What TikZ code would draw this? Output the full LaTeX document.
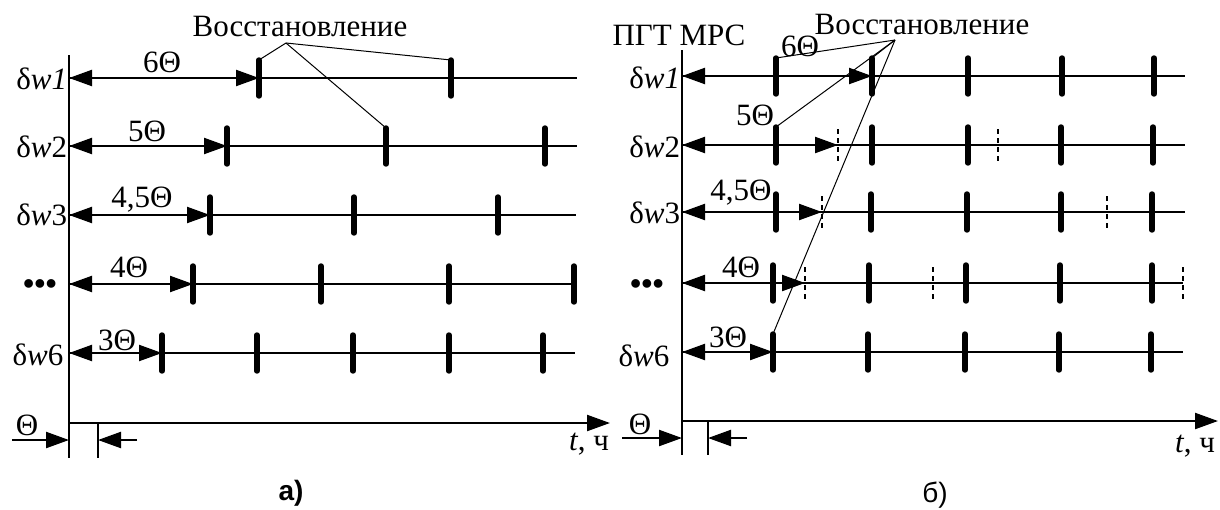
\documentclass[tikz,border=0pt]{standalone}
\usepackage{fontspec}
\setmainfont{Liberation Serif}
\newfontfamily\capfont{Liberation Sans}
\usetikzlibrary{arrows.meta}

\tikzset{
  tline/.style={line width=1.2pt},
  bar/.style={line width=2.7pt, line cap=round},
  dbar/.style={line width=1pt, dash pattern=on 2.5pt off 2pt},
  lead/.style={line width=0.5pt},
  dimarr/.style={line width=1.1pt, {Triangle[length=11.5pt,width=8pt]}-{Triangle[length=11.5pt,width=8pt]}},
  onearr/.style={line width=1.1pt, -{Triangle[length=11.5pt,width=8pt]}},
  lbl/.style={inner sep=0.75pt, font=\fontsize{15.5}{18}\selectfont},
  dots/.style={inner sep=0.75pt, font=\fontsize{16}{18}\selectfont},
}

\begin{document}
\begin{tikzpicture}[x=0.5pt,y=0.5pt,yscale=-1,xscale=1]
\useasboundingbox (0,0) rectangle (1220,509);

% ---------------- a) ----------------
%Straight Lines: axes
\draw[tline] (69,55) -- (69,458);
\coordinate (a0) at (69,423);
\coordinate (aend) at (610,423);
\draw[onearr] (a0) -- (aend);

% row coordinates
\coordinate (a1) at (69,78);
\coordinate (a2) at (69,146);
\coordinate (a3) at (69,215);
\coordinate (a4) at (69,284);
\coordinate (a5) at (69,353);

%Straight Lines: time lines
\draw[tline] (a1) -- (577,78);
\draw[tline] (a2) -- (577,146);
\draw[tline] (a3) -- (576,215);
\draw[tline] (a4) -- (574,284);
\draw[tline] (a5) -- (575,353);

%Shape: restoration bars
\coordinate (a1b1) at (259,60);
\coordinate (a1b2) at (451,60);
\coordinate (a2b1) at (227,128);
\coordinate (a2b2) at (386,128);
\coordinate (a3b1) at (210,197);
\coordinate (a4b1) at (193,266);
\coordinate (a5b1) at (162,335);
\draw[bar] (a1b1) -- ++(0,36) (a1b2) -- ++(0,36);
\draw[bar] (a2b1) -- ++(0,36) (a2b2) -- ++(0,36) (545,128) -- (545,164);
\draw[bar] (a3b1) -- ++(0,36) (354,197) -- (354,233) (498,197) -- (498,233);
\draw[bar] (a4b1) -- ++(0,36) (321,266) -- (321,302) (449,266) -- (449,302) (574,266) -- (574,302);
\draw[bar] (a5b1) -- ++(0,36) (257,335) -- (257,371) (353,335) -- (353,371) (449,335) -- (449,371) (543,335) -- (543,371);

%Straight Lines: periods
\draw[dimarr] (a1) -- (a1b1 |- a1);
\draw[dimarr] (a2) -- (a2b1 |- a2);
\draw[dimarr] (a3) -- (a3b1 |- a3);
\draw[dimarr] (a4) -- (a4b1 |- a4);
\draw[dimarr] (a5) -- (a5b1 |- a5);

% Text Node
\node[lbl, anchor=east] (aw1) at (69,79) {δ\textit{w1}};
\node[lbl, anchor=east] (aw2) at (69,147) {δ\textit{w}2};
\node[lbl, anchor=east] (aw3) at (69,215) {δ\textit{w}3};
\node[dots] (awd) at (40,287) {\textbf{•••}};
\node[lbl] (aw6) at (38,355) {δ\textit{w}6};
\node[lbl] (ad1) at (162,62) {6Θ};
\node[lbl] (ad2) at (147,131) {5Θ};
\node[lbl] (ad3) at (142,200) {4,5Θ};
\node[lbl] (ad4) at (129,267) {4Θ};
\node[lbl] (ad5) at (117,340) {3Θ};

% Text Node
\node[lbl] (arest) at (300,26) {Восстановление};
\coordinate (aapex) at (286,43);
\draw[lead] (aapex) -- (a1b1);
\draw[lead] (aapex) -- (a1b2);
\draw[lead] (aapex) -- (a2b2);

%Straight Lines: one period
\coordinate (aq0) at (69,458);
\coordinate (aq1) at (98,423);
\draw[tline] (aq1) -- ++(0,35);
\coordinate (aql) at (12,440);
\coordinate (aqr) at (137,440);
\draw[onearr] (aql) -- (aq0 |- aql);
\draw[onearr] (aqr) -- (aq1 |- aqr);
\node[lbl] (aq) at (27,425) {Θ};
\node[lbl] (at) at (589,444) {\textit{t}, ч};
\node[lbl, font=\capfont\bfseries\fontsize{14}{17}\selectfont] (acap) at (291,493) {а)};

% ---------------- b) ----------------
%Straight Lines: axes
\draw[tline] (682,50) -- (682,455);
\coordinate (b0) at (682,421);
\coordinate (bend) at (1218,421);
\draw[onearr] (b0) -- (bend);

% row coordinates
\coordinate (b1) at (682,76);
\coordinate (b2) at (682,145);
\coordinate (b3) at (682,212);
\coordinate (b4) at (682,283);
\coordinate (b5) at (682,352);

%Straight Lines: time lines
\draw[tline] (b1) -- (1185,76);
\draw[tline] (b2) -- (1185,145);
\draw[tline] (b3) -- (1185,212);
\draw[tline] (b4) -- (1183,283);
\draw[tline] (b5) -- (1183,352);

%Shape: restoration bars
\coordinate (b1b1) at (776,58);
\coordinate (b1b2) at (872,58);
\coordinate (b2b1) at (776,127);
\coordinate (b5b1) at (773,334);
\draw[bar] (b1b1) -- ++(0,36) (b1b2) -- ++(0,36) (968,58) -- (968,94) (1062,58) -- (1062,94) (1154,58) -- (1154,94);
\draw[bar] (b2b1) -- ++(0,36) (872,127) -- (872,163) (968,127) -- (968,163) (1061,127) -- (1061,163) (1153,127) -- (1153,163);
\draw[bar] (776,194) -- (776,230) (871,194) -- (871,230) (967,194) -- (967,230) (1061,194) -- (1061,230) (1152,194) -- (1152,230);
\draw[bar] (773,265) -- (773,301) (869,265) -- (869,301) (966,265) -- (966,301) (1060,265) -- (1060,301) (1152,265) -- (1152,301);
\draw[bar] (b5b1) -- ++(0,36) (868,334) -- (868,370) (965,334) -- (965,370) (1059,334) -- (1059,370) (1151,334) -- (1151,370);

%Shape: dashed bars
\coordinate (b2d1) at (838,129);
\coordinate (b3d1) at (822,196);
\coordinate (b4d1) at (805,267);
\draw[dbar] (b2d1) -- ++(0,32) (998,129) -- (998,161);
\draw[dbar] (b3d1) -- ++(0,32) (1107,196) -- (1107,228);
\draw[dbar] (b4d1) -- ++(0,32) (933,267) -- (933,299) (1183,267) -- (1183,299);

%Straight Lines: periods
\draw[dimarr] (b1) -- (b1b2 |- b1);
\draw[dimarr] (b2) -- (b2d1 |- b2);
\draw[dimarr] (b3) -- (b3d1 |- b3);
\draw[dimarr] (b4) -- (b4d1 |- b4);
\draw[dimarr] (b5) -- (b5b1 |- b5);

% Text Node
\node[lbl] (bhead) at (679,35) {ПГТ МРС};
\node[lbl, anchor=east] (bw1) at (682,78) {δ\textit{w1}};
\node[lbl, anchor=east] (bw2) at (682,147) {δ\textit{w}2};
\node[lbl, anchor=east] (bw3) at (682,213) {δ\textit{w}3};
\node[dots] (bwd) at (647,287) {\textbf{•••}};
\node[lbl] (bw6) at (644,356) {δ\textit{w}6};
\node[lbl] (bd1) at (800,46) {6Θ};
\node[lbl] (bd2) at (755,115) {5Θ};
\node[lbl] (bd3) at (741,193) {4,5Θ};
\node[lbl] (bd4) at (741,267) {4Θ};
\node[lbl] (bd5) at (728,337) {3Θ};

% Text Node
\node[lbl] (brest) at (922,24) {Восстановление};
\coordinate (bapex) at (895,40);
\draw[lead] (bapex) -- (b1b1);
\draw[lead] (bapex) -- (b1b2);
\draw[lead] (bapex) -- (b2b1);
\draw[lead] (bapex) -- (b5b1);

%Straight Lines: one period
\coordinate (bq0) at (682,455);
\coordinate (bq1) at (708,421);
\draw[tline] (bq1) -- ++(0,34);
\coordinate (bql) at (622,438);
\coordinate (bqr) at (747,438);
\draw[onearr] (bql) -- (bq0 |- bql);
\draw[onearr] (bqr) -- (bq1 |- bqr);
\node[lbl] (bq) at (640,424) {Θ};
\node[lbl] (bt) at (1195,446) {\textit{t}, ч};
\node[lbl, font=\capfont\fontsize{14}{17}\selectfont] (bcap) at (935,495) {б)};

\end{tikzpicture}
\end{document}
